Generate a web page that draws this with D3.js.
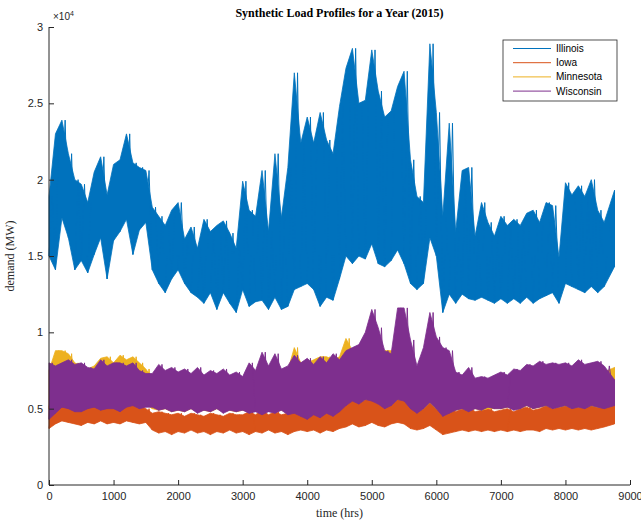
<!DOCTYPE html>
<html>
<head>
<meta charset="utf-8">
<script src="https://cdn.jsdelivr.net/npm/d3@7"></script>
<style>
  body { margin: 0; background: #fff; }
  .axis text { font-family: "Liberation Sans", Arial, sans-serif; font-size: 11px; fill: #262626; }
  .axis path, .axis line { stroke: #262626; }
</style>
</head>
<body>
<div id="chart"></div>
<script>
// demand in units of 10^4 MW, one high/low pair per 100-hour block
const hours = [...d3.range(0, 8700, 100), 8760];

const states = ['Illinois', 'Iowa', 'Minnesota', 'Wisconsin'];
const colors = ['#0072BD', '#D95319', '#EDB120', '#7E2F8E'];

const illinoisHigh = [
  1.89, 2.30, 2.39, 2.17, 2.00, 1.97, 1.85, 2.05, 2.15, 1.90,
  2.10, 2.13, 2.30, 2.11, 2.08, 2.06, 1.82, 1.76, 1.70, 1.80,
  1.85, 1.61, 1.69, 1.55, 1.74, 1.66, 1.70, 1.73, 1.65, 1.55,
  1.99, 1.80, 1.76, 2.06, 1.66, 2.17, 1.75, 2.08, 2.70, 2.24,
  2.41, 2.24, 2.44, 2.26, 2.17, 2.48, 2.73, 2.86, 2.50, 2.52,
  2.85, 2.58, 2.41, 2.45, 2.61, 2.71, 2.13, 1.89, 1.85, 2.89,
  2.44, 1.76, 2.37, 1.66, 2.06, 2.08, 1.63, 1.85, 1.72, 1.63,
  1.76, 1.70, 1.74, 1.70, 1.78, 1.80, 1.72, 1.85, 1.83, 1.49,
  1.98, 1.90, 1.96, 1.89, 2.00, 1.80, 1.72, 1.93
];
const illinoisLow = [
  1.50, 1.41, 1.75, 1.62, 1.41, 1.47, 1.39, 1.51, 1.62, 1.35,
  1.60, 1.66, 1.74, 1.51, 1.67, 1.72, 1.41, 1.32, 1.26, 1.35,
  1.41, 1.32, 1.26, 1.23, 1.19, 1.26, 1.15, 1.26, 1.19, 1.13,
  1.28, 1.17, 1.20, 1.21, 1.15, 1.23, 1.15, 1.17, 1.28, 1.30,
  1.32, 1.28, 1.17, 1.23, 1.21, 1.35, 1.50, 1.45, 1.50, 1.48,
  1.58, 1.45, 1.43, 1.47, 1.54, 1.45, 1.32, 1.28, 1.32, 1.62,
  1.50, 1.13, 1.25, 1.19, 1.25, 1.22, 1.21, 1.23, 1.21, 1.19,
  1.22, 1.19, 1.22, 1.19, 1.23, 1.19, 1.22, 1.24, 1.26, 1.19,
  1.32, 1.30, 1.28, 1.26, 1.30, 1.26, 1.30, 1.43
];

const iowaHigh = [
  0.52, 0.55, 0.55, 0.54, 0.52, 0.55, 0.53, 0.54, 0.52, 0.55,
  0.54, 0.52, 0.55, 0.53, 0.52, 0.50, 0.47, 0.48, 0.47, 0.46,
  0.47, 0.45, 0.47, 0.46, 0.45, 0.47, 0.46, 0.45, 0.47, 0.46,
  0.46, 0.48, 0.46, 0.49, 0.46, 0.48, 0.46, 0.47, 0.49, 0.47,
  0.48, 0.47, 0.49, 0.47, 0.48, 0.50, 0.55, 0.58, 0.56, 0.58,
  0.60, 0.56, 0.53, 0.55, 0.60, 0.62, 0.52, 0.48, 0.50, 0.58,
  0.54, 0.50, 0.55, 0.48, 0.50, 0.52, 0.48, 0.49, 0.50, 0.48,
  0.49, 0.50, 0.48, 0.50, 0.51, 0.49, 0.50, 0.52, 0.50, 0.51,
  0.52, 0.50, 0.53, 0.51, 0.52, 0.53, 0.50, 0.56
];
const iowaLow = [
  0.37, 0.40, 0.42, 0.41, 0.40, 0.39, 0.41, 0.40, 0.42, 0.40,
  0.41, 0.40, 0.42, 0.41, 0.40, 0.41, 0.36, 0.34, 0.35, 0.33,
  0.35, 0.34, 0.36, 0.34, 0.35, 0.33, 0.35, 0.34, 0.36, 0.34,
  0.35, 0.33, 0.35, 0.34, 0.36, 0.34, 0.35, 0.33, 0.35, 0.36,
  0.35, 0.36, 0.34, 0.36, 0.35, 0.37, 0.38, 0.40, 0.38, 0.39,
  0.41, 0.39, 0.38, 0.40, 0.41, 0.40, 0.37, 0.36, 0.37, 0.39,
  0.36, 0.33, 0.34, 0.35, 0.36, 0.35, 0.36, 0.35, 0.36, 0.35,
  0.36, 0.35, 0.36, 0.35, 0.36, 0.36, 0.35, 0.37, 0.36, 0.37,
  0.36, 0.37, 0.36, 0.37, 0.36, 0.37, 0.38, 0.40
];

const minnesotaHigh = [
  0.75, 0.88, 0.88, 0.86, 0.80, 0.78, 0.76, 0.78, 0.83, 0.84,
  0.80, 0.85, 0.82, 0.84, 0.80, 0.76, 0.70, 0.72, 0.70, 0.71,
  0.70, 0.72, 0.69, 0.71, 0.68, 0.70, 0.69, 0.71, 0.68, 0.70,
  0.68, 0.74, 0.70, 0.80, 0.72, 0.80, 0.72, 0.75, 0.90, 0.80,
  0.80, 0.82, 0.84, 0.84, 0.82, 0.84, 0.96, 0.88, 0.86, 0.90,
  0.95, 0.88, 0.88, 0.88, 0.85, 0.88, 0.80, 0.75, 0.80, 0.95,
  0.90, 0.80, 0.72, 0.70, 0.68, 0.72, 0.67, 0.68, 0.67, 0.69,
  0.70, 0.69, 0.72, 0.71, 0.74, 0.73, 0.76, 0.74, 0.75, 0.74,
  0.75, 0.74, 0.77, 0.75, 0.76, 0.76, 0.74, 0.77
];
const minnesotaLow = [
  0.50, 0.55, 0.56, 0.55, 0.54, 0.53, 0.55, 0.54, 0.55, 0.54,
  0.55, 0.54, 0.55, 0.56, 0.54, 0.53, 0.50, 0.49, 0.50, 0.48,
  0.49, 0.48, 0.50, 0.48, 0.49, 0.48, 0.50, 0.48, 0.49, 0.48,
  0.49, 0.48, 0.49, 0.47, 0.49, 0.48, 0.49, 0.47, 0.48, 0.47,
  0.47, 0.48, 0.47, 0.48, 0.47, 0.49, 0.53, 0.56, 0.54, 0.56,
  0.56, 0.54, 0.52, 0.53, 0.56, 0.56, 0.51, 0.48, 0.50, 0.54,
  0.50, 0.47, 0.48, 0.49, 0.50, 0.49, 0.50, 0.49, 0.50, 0.50,
  0.50, 0.51, 0.50, 0.50, 0.52, 0.50, 0.51, 0.52, 0.51, 0.51,
  0.52, 0.51, 0.51, 0.51, 0.52, 0.51, 0.51, 0.53
];

const wisconsinHigh = [
  0.80, 0.78, 0.80, 0.82, 0.79, 0.80, 0.77, 0.76, 0.82, 0.78,
  0.80, 0.80, 0.78, 0.80, 0.75, 0.73, 0.73, 0.79, 0.75, 0.77,
  0.74, 0.76, 0.73, 0.77, 0.72, 0.75, 0.73, 0.76, 0.72, 0.74,
  0.71, 0.80, 0.75, 0.87, 0.78, 0.86, 0.76, 0.78, 0.85, 0.80,
  0.83, 0.79, 0.84, 0.80, 0.86, 0.82, 0.88, 0.90, 0.92, 1.00,
  1.15, 1.03, 0.88, 0.86, 1.16, 1.16, 0.95, 0.78, 0.90, 1.13,
  0.97, 0.90, 0.88, 0.74, 0.72, 0.77, 0.70, 0.71, 0.70, 0.72,
  0.74, 0.72, 0.76, 0.75, 0.79, 0.78, 0.81, 0.79, 0.80, 0.79,
  0.80, 0.78, 0.82, 0.79, 0.80, 0.81, 0.78, 0.69
];
const wisconsinLow = [
  0.43, 0.47, 0.51, 0.50, 0.48, 0.48, 0.50, 0.51, 0.49, 0.50,
  0.50, 0.48, 0.51, 0.52, 0.50, 0.51, 0.51, 0.49, 0.50, 0.48,
  0.49, 0.48, 0.50, 0.47, 0.49, 0.48, 0.50, 0.47, 0.49, 0.48,
  0.49, 0.47, 0.48, 0.46, 0.48, 0.47, 0.49, 0.46, 0.47, 0.45,
  0.43, 0.46, 0.44, 0.47, 0.45, 0.48, 0.52, 0.55, 0.53, 0.56,
  0.55, 0.53, 0.50, 0.52, 0.56, 0.55, 0.50, 0.47, 0.50, 0.54,
  0.50, 0.45, 0.47, 0.49, 0.50, 0.48, 0.50, 0.49, 0.51, 0.50,
  0.50, 0.51, 0.49, 0.50, 0.52, 0.50, 0.51, 0.52, 0.50, 0.51,
  0.52, 0.50, 0.51, 0.50, 0.52, 0.51, 0.50, 0.52
];

const highs = [illinoisHigh, iowaHigh, minnesotaHigh, wisconsinHigh];
const lows = [illinoisLow, iowaLow, minnesotaLow, wisconsinLow];

const xTicks = d3.range(0, 9001, 1000);
const yTicks = [0, 0.5, 1, 1.5, 2, 2.5, 3];

const margin = { left: 49, right: 11, top: 27, bottom: 38 };
const width = 641 - margin.left - margin.right;
const height = 523 - margin.top - margin.bottom;

const svg = d3.select('#chart').append('svg')
  .attr('width', 641)
  .attr('height', 523);

const g = svg.append('g')
  .attr('transform', `translate(${margin.left}, ${margin.top})`);

const x = d3.scaleLinear().domain([0, 9000]).range([0, width]);
const y = d3.scaleLinear().domain([0, 3]).range([height, 0]);

// each block is drawn as a band from its low to its high
const area = d3.area()
  .x((d, i) => x(hours[i]))
  .y0(d => y(d.lo))
  .y1(d => y(d.hi));

// thin trace bouncing between block lows and highs, for the spiky texture
const trace = d3.line()
  .x(d => x(d.h))
  .y(d => y(d.v));

states.forEach((s, k) => {
  const pts = highs[k].map((hi, i) => ({ hi, lo: lows[k][i] }));
  g.append('path')
    .datum(pts)
    .attr('d', area)
    .attr('fill', colors[k])
    .attr('stroke', colors[k])
    .attr('stroke-width', 0.8);

  const zig = [];
  highs[k].forEach((hi, i) => {
    const next = i < hours.length - 1 ? hours[i + 1] : hours[i];
    zig.push({ h: hours[i], v: lows[k][i] });
    zig.push({ h: (hours[i] + next) / 2, v: hi });
  });
  g.append('path')
    .datum(zig)
    .attr('d', trace)
    .attr('fill', 'none')
    .attr('stroke', colors[k])
    .attr('stroke-width', 1);
});

// axes, ticks point inward like MATLAB
g.append('g')
  .attr('class', 'x axis')
  .attr('transform', `translate(0, ${height})`)
  .call(d3.axisBottom(x).tickValues(xTicks).tickSize(-5).tickPadding(7).tickFormat(d3.format('d')))
  .call(a => a.select('.domain').attr('d', `M0,0H${width}`));

g.append('g')
  .attr('class', 'y axis')
  .call(d3.axisLeft(y).tickValues(yTicks).tickSize(-5).tickPadding(6).tickFormat(d => d))
  .call(a => a.select('.domain').attr('d', `M0,${height}V0`));

// exponent label
const expo = g.append('text')
  .attr('x', 4)
  .attr('y', -7)
  .attr('font-family', 'Liberation Sans, Arial, sans-serif')
  .attr('font-size', '10px')
  .attr('fill', '#262626');
expo.append('tspan').text('\u00d710');
expo.append('tspan').attr('dy', -4).attr('font-size', '7px').text('4');

g.append('text')
  .attr('x', width / 2)
  .attr('y', -10)
  .attr('text-anchor', 'middle')
  .attr('font-family', 'Liberation Serif, Times New Roman, serif')
  .attr('font-weight', 'bold')
  .attr('font-size', '12px')
  .attr('fill', '#000')
  .text('Synthetic Load Profiles for a Year (2015)');

g.append('text')
  .attr('x', width / 2)
  .attr('y', height + 32)
  .attr('text-anchor', 'middle')
  .attr('font-family', 'Liberation Serif, Times New Roman, serif')
  .attr('font-size', '12px')
  .attr('fill', '#262626')
  .text('time (hrs)');

g.append('text')
  .attr('x', -height / 2)
  .attr('y', -35)
  .attr('transform', 'rotate(-90)')
  .attr('text-anchor', 'middle')
  .attr('font-family', 'Liberation Serif, Times New Roman, serif')
  .attr('font-size', '12px')
  .attr('fill', '#262626')
  .text('demand (MW)');

// legend
const legend = svg.append('g').attr('transform', 'translate(503, 40)');
legend.append('rect')
  .attr('width', 114)
  .attr('height', 61)
  .attr('fill', '#fff')
  .attr('stroke', '#262626')
  .attr('stroke-width', 0.8);

const row = legend.selectAll('.legend-row')
  .data(states)
  .enter()
  .append('g')
    .attr('class', 'legend-row')
    .attr('transform', (d, i) => `translate(0, ${8.5 + i * 14.2})`);

row.append('line')
  .attr('x1', 10)
  .attr('x2', 48)
  .attr('stroke', (d, i) => colors[i])
  .attr('stroke-width', 1);

row.append('text')
  .attr('x', 53)
  .attr('y', 3.5)
  .attr('font-family', 'Liberation Sans, Arial, sans-serif')
  .attr('font-size', '10px')
  .attr('fill', '#000')
  .text(d => d);
</script>
</body>
</html>
